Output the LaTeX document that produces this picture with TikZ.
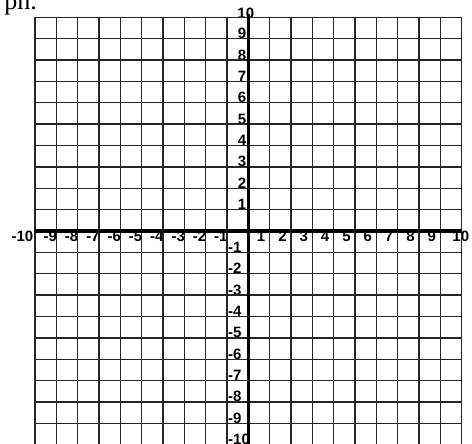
\documentclass[tikz,border=0pt]{standalone}
\usepackage{fontspec}
\setmainfont{Liberation Serif}
\newfontfamily\labelfont{Liberation Sans}
\begin{document}
\begin{tikzpicture}[x=1pt,y=-1pt,
  gridline/.style={line width=1.4pt, black!85},
  axisline/.style={line width=3.3pt, black},
  lab/.style={font=\labelfont\bfseries\fontsize{15}{15}\selectfont, inner sep=0pt},
]
\useasboundingbox (0,0) rectangle (472,444);
\clip (0,0) rectangle (472,444);
\fill[white] (0,0) rectangle (472,444);
\node[font=\fontsize{26}{26}\selectfont, inner sep=0pt, anchor=base east] (title) at (37,9.5) {ph.};
% labels
\foreach \i in {1,...,9} {
  \node[lab, anchor=base east] (yp\i) at (246.5, {231-21.37*\i}) {\i};
  \node[lab, anchor=base west] (yn\i) at (228.0, {231+21.37*\i}) {-\i};
  \node[lab, anchor=base] (xp\i) at ({248.3+21.33*\i-8.5}, 241.8) {\i};
  \node[lab, anchor=base east] (xn\i) at ({248.3-21.33*\i+0.8}, 241.8) {-\i};
}
\node[lab, anchor=base] (yp10) at (245.8, 18.3) {10};
\node[lab, anchor=base west] (yn10) at (228.0, 444.5) {-10};
\node[lab, anchor=base] (xp10) at (460.8, 241.8) {10};
\node[lab, anchor=base] (xn10) at (22.5, 241.5) {-10};
% grid
\foreach \i in {0,...,20} {
  \draw[gridline] ({35+21.33*\i},17.3) -- ({35+21.33*\i},444);
  \draw[gridline] (35,{17.3+21.37*\i}) -- (461.6,{17.3+21.37*\i});
}
% axes
\draw[axisline] (35,231) -- (462,231);
\draw[axisline] (248.5,14) -- (248.5,444);
\end{tikzpicture}
\end{document}
